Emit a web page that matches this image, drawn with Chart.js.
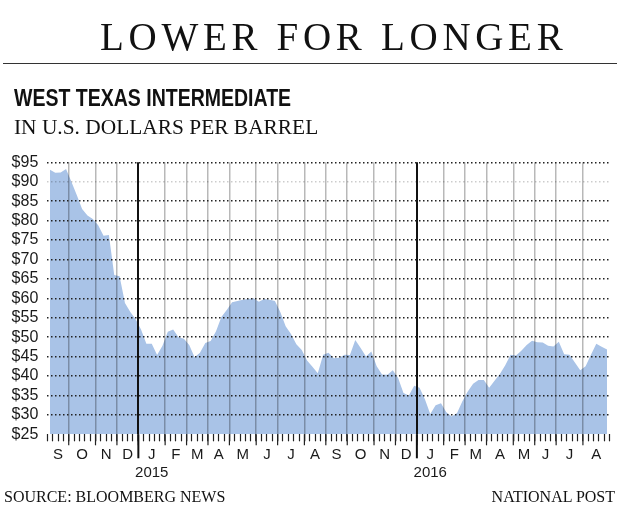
<!DOCTYPE html>
<html>
<head>
<meta charset="utf-8">
<script src="https://cdn.jsdelivr.net/npm/chart.js@4.4.0/dist/chart.umd.min.js"></script>
<style>
html,body{margin:0;padding:0;background:#fff;}
#wrap{position:relative;width:620px;height:518px;overflow:hidden;background:#fff;}
#c{position:absolute;left:0;top:0;}
.t{position:absolute;white-space:nowrap;color:#111;line-height:1;}
#title{left:100px;top:17px;font-family:'Liberation Serif',serif;font-size:39px;letter-spacing:4.7px;}
#rule{position:absolute;left:3px;width:614px;top:63px;height:0;border-top:1.5px solid #333;}
#head{left:14px;top:87px;font-family:'Liberation Sans',sans-serif;font-weight:bold;font-size:23.5px;transform:scaleX(0.83);transform-origin:0 0;}
#sub{left:14px;top:117px;font-family:'Liberation Serif',serif;font-size:21.4px;}
#src{left:4px;top:489px;font-family:'Liberation Serif',serif;font-size:16px;}
#np{right:5px;top:489px;font-family:'Liberation Serif',serif;font-size:16px;}
</style>
</head>
<body>
<div id="wrap">
<canvas id="c" width="620" height="518"></canvas>
<div class="t" id="title">LOWER FOR LONGER</div>
<div id="rule"></div>
<div class="t" id="head">WEST TEXAS INTERMEDIATE</div>
<div class="t" id="sub">IN U.S. DOLLARS PER BARREL</div>
<div class="t" id="src">SOURCE: BLOOMBERG NEWS</div>
<div class="t" id="np">NATIONAL POST</div>
</div>
<script>
// Weekly WTI price, USD per barrel, Sep 2014 - Aug 2016 (week index = position in array)
const weeklyPrice = [
  93.1, 92.3, 92.4, 93.3, 90.0, 86.6, 83.0, 81.3, 80.4, 78.8,
  76.1, 76.3, 66.0, 65.7, 58.8, 56.5, 54.6, 52.0, 48.3, 48.3,
  45.4, 47.8, 51.4, 52.0, 50.0, 49.6, 48.0, 44.8, 46.0, 48.5,
  49.0, 51.5, 55.2, 57.0, 59.0, 59.3, 59.6, 59.8, 60.0, 59.1,
  59.8, 59.6, 59.3, 56.5, 52.8, 50.8, 48.2, 46.7, 44.0, 42.4,
  40.7, 45.5, 46.0, 44.6, 44.7, 45.5, 45.4, 49.3, 47.2, 45.0,
  46.3, 42.5, 40.4, 40.3, 41.5, 39.5, 35.6, 35.0, 37.5, 37.0,
  34.0, 30.2, 32.5, 33.0, 30.7, 29.6, 30.5, 33.5, 36.0, 38.0,
  39.0, 39.0, 37.0, 38.8, 40.5, 42.8, 45.5, 45.3, 46.5, 48.0,
  49.1, 48.7, 48.6, 47.8, 47.6, 48.8, 45.6, 45.5, 43.5, 41.5,
  42.5, 45.5, 48.3, 47.5, 46.8
];
// Month boundaries on the weekly axis (week index between weeks)
const monthStarts = [3.5, 8.5, 12.5, 16.5, 21.5, 25.5, 29.5, 33.5, 38.5, 42.5, 47.5, 51.5,
                     55.5, 60.5, 64.5, 68.5, 73.5, 77.5, 81.5, 86.5, 90.5, 94.5, 99.5];
const yearStarts = [16.5, 68.5];
const monthLabels = ['S','O','N','D','J','F','M','A','M','J','J','A',
                     'S','O','N','D','J','F','M','A','M','J','J','A'];
const yearLabels = ['2015', '2016'];
const yearLabelMonth = [4, 16];
const xRange = [-0.5, 104.5];
const yRange = [25, 95];
const yStep = 5;

// Build x ticks: weekly boundaries + month label centres
function buildXTicks() {
  const t = [];
  for (let v = xRange[0]; v <= xRange[1] + 1e-9; v += 1) {
    let kind = 'week';
    if (yearStarts.includes(v)) kind = 'year';
    else if (monthStarts.includes(v)) kind = 'month';
    t.push({ value: v, kind: kind, lbl: '' });
  }
  const edges = [xRange[0], ...monthStarts, xRange[1]];
  for (let k = 0; k < monthLabels.length; k++) {
    const yi = yearLabelMonth.indexOf(k);
    t.push({ value: (edges[k] + edges[k + 1]) / 2, kind: 'label',
             lbl: yi >= 0 ? [monthLabels[k], yearLabels[yi]] : monthLabels[k] });
  }
  return t;
}

const tickExtend = {
  id: 'tickExtend',
  afterDraw(chart) {
    const xs = chart.scales.x, ctx = chart.ctx, b = chart.chartArea.bottom;
    ctx.save();
    ctx.strokeStyle = '#222';
    ctx.lineWidth = 1.2;
    monthStarts.forEach(v => {
      const px = xs.getPixelForValue(v);
      ctx.beginPath(); ctx.moveTo(px, b); ctx.lineTo(px, b + 11); ctx.stroke();
    });
    ctx.strokeStyle = '#111';
    ctx.lineWidth = 2;
    yearStarts.forEach(v => {
      const px = xs.getPixelForValue(v);
      ctx.beginPath(); ctx.moveTo(px, b); ctx.lineTo(px, b + 24); ctx.stroke();
    });
    ctx.restore();
  }
};

new Chart(document.getElementById('c'), {
  type: 'line',
  data: {
    datasets: [{
      data: weeklyPrice.map((v, i) => ({ x: i, y: v })),
      fill: 'start',
      backgroundColor: '#a9c3e7',
      borderWidth: 0,
      borderColor: 'rgba(0,0,0,0)',
      pointRadius: 0,
      tension: 0
    }]
  },
  options: {
    responsive: false,
    animation: false,
    layout: { padding: { top: 162.3, right: 10.3, bottom: 0, left: 0 } },
    plugins: { legend: { display: false }, tooltip: { enabled: false } },
    scales: {
      x: {
        type: 'linear', min: xRange[0], max: xRange[1], z: 1,
        afterBuildTicks: s => { s.ticks = buildXTicks(); },
        afterFit: s => { s.height = 83.7; },
        grid: {
          z: 1,
          drawOnChartArea: true,
          tickLength: 7,
          color: c => c.tick.kind === 'year' ? '#111' : (c.tick.kind === 'month' ? 'rgba(0,0,0,0.28)' : 'rgba(0,0,0,0)'),
          lineWidth: c => c.tick.kind === 'year' ? 2 : (c.tick.kind === 'month' ? 1.5 : 1),
          tickColor: c => c.tick.kind === 'label' ? 'rgba(0,0,0,0)' : '#222',
          tickWidth: 1.2
        },
        border: { display: false },
        ticks: {
          z: 2, autoSkip: false, maxRotation: 0, minRotation: 0, padding: 5,
          color: '#1a1a1a',
          font: { family: 'Liberation Sans', size: 15 },
          callback: (v, i, ticks) => ticks[i].lbl
        }
      },
      y: {
        min: yRange[0], max: yRange[1], z: 1,
        afterFit: s => { s.width = 47.3; },
        grid: {
          z: 1,
          drawTicks: false,
          color: c => c.tick.value === yRange[0] ? 'rgba(0,0,0,0)' : (c.tick.value === 90 ? 'rgba(0,0,0,0.2)' : '#222'),
          lineWidth: 1.5
        },
        border: { display: false, dash: [1.5, 2.5] },
        ticks: {
          z: 2, stepSize: yStep, maxTicksLimit: 30, autoSkip: false, padding: 9,
          color: '#1a1a1a',
          font: { family: 'Liberation Sans', size: 16 },
          callback: v => '$' + v
        }
      }
    }
  },
  plugins: [tickExtend]
});
</script>
</body>
</html>
